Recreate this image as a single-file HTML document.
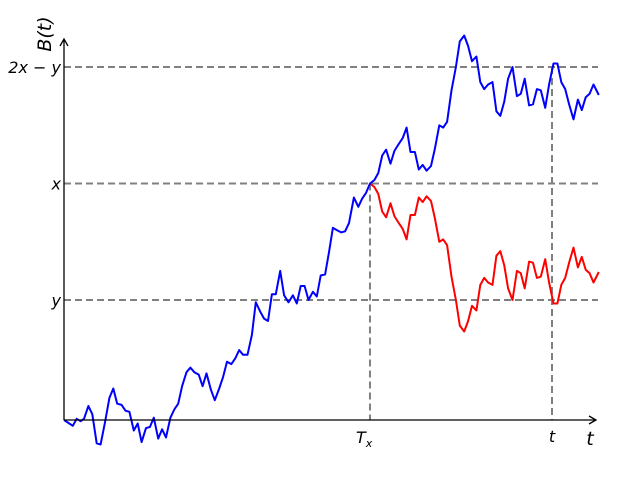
<!DOCTYPE html>
<html><head><meta charset="utf-8"><style>
html,body{margin:0;padding:0;background:#fff;width:640px;height:480px;overflow:hidden}
svg text{font-family:"DejaVu Sans","Liberation Sans",sans-serif;font-style:italic;fill:#000}
</style></head><body>
<svg id="chart" width="640" height="480" viewBox="0 0 640 480" xmlns="http://www.w3.org/2000/svg"></svg>
<script>
const times = [0,.018,.026,.034,.041,.050,.058,.067,.075,.084,.093,.101,.109,.118,.126,.134,.143,.151,.159,.168,.176,.184,.193,.201,.209,.218,.226,.234,.242,.251,.259,.267,.276,.284,.292,.301,.309,.318,.326,.334,.343,.351,.359,.367,.376,.385,.393,.402,.410,.418,.426,.434,.443,.451,.460,.469,.477,.485,.493,.501,.510,.518,.526,.535,.543,.551,.559,.568,.576,.584,.594,.603,.611,.619,.627,.636,.644,.652,.660,.669,.677,.686,.694,.702,.710,.719,.727,.735,.743,.752,.760,.769,.777,.785,.794,.803,.811,.820,.828,.836,.845,.853,.861,.869,.878,.886,.894,.902,.910,.919,.928,.936,.944,.953,.961,.969,.977,.986,.994,1.003,1.011,1.019,1.027,1.035,1.044,1.053,1.061,1.069,1.077,1.085,1.096];
const values = [-.03,-.08,-.02,-.04,-.02,.09,.02,-.23,-.24,-.05,.16,.24,.11,.10,.05,.04,-.12,-.06,-.22,-.10,-.09,-.01,-.19,-.11,-.18,-.01,.06,.11,.26,.38,.42,.38,.36,.26,.37,.23,.14,.24,.34,.47,.45,.50,.57,.53,.53,.70,.98,.90,.84,.82,1.05,1.05,1.25,1.04,.98,1.04,.97,1.12,1.12,1.00,1.07,1.03,1.21,1.22,1.41,1.62,1.60,1.58,1.59,1.66,1.88,1.80,1.87,1.92,2.00,2.03,2.09,2.24,2.29,2.17,2.28,2.34,2.39,2.48,2.27,2.27,2.12,2.16,2.11,2.15,2.30,2.50,2.48,2.53,2.80,3.00,3.22,3.27,3.18,3.05,3.09,2.87,2.81,2.85,2.87,2.62,2.58,2.70,2.90,3.00,2.75,2.77,2.90,2.67,2.68,2.81,2.80,2.65,2.85,3.03,3.03,2.87,2.81,2.68,2.55,2.72,2.63,2.74,2.77,2.85,2.76];
const levelNames = ["y","x","2x − y"];
const levelValues = [1, 2, 3];
const Tx = 0.627;
const tMark = 1.0;
const tickLabels = ["T", "t"];

const svg = document.getElementById('chart');
const NS = 'http://www.w3.org/2000/svg';
const X = t => 64 + t * 488;
const Y = v => 416.5 - v * 116.5;
const axisY = 420;
function mk(tag, attrs){ const e=document.createElementNS(NS,tag); for(const k in attrs) e.setAttribute(k,attrs[k]); svg.appendChild(e); return e; }

levelValues.forEach((v,i)=>{
  const l = mk('line',{x1:64,x2:598,y1:Y(v),y2:Y(v),stroke:'#808080','stroke-width':2,'stroke-dasharray':'7,4'});
  
  
  const tx = mk('text',{x:61,y:Y(v)+6,'text-anchor':'end','font-size':16});
  tx.textContent = levelNames[i];
  
  
});
const xLevel = levelValues[1];
const vTx = mk('line',{x1:X(Tx),x2:X(Tx),y1:Y(xLevel),y2:axisY,stroke:'#808080','stroke-width':2,'stroke-dasharray':'7,4'});


const vT = mk('line',{x1:X(tMark),x2:X(tMark),y1:Y(levelValues[2]),y2:axisY,stroke:'#808080','stroke-width':2,'stroke-dasharray':'7,4'});



let blue='', red='';
times.forEach((t,i)=>{
  blue += (i?'L':'M') + X(t).toFixed(1) + ',' + Y(values[i]).toFixed(1);
  if (t >= Tx - 1e-9) red += (red?'L':'M') + X(t).toFixed(1) + ',' + Y(2*xLevel - values[i]).toFixed(1);
});
const rp = mk('path',{d:red,fill:'none',stroke:'#ff0000','stroke-width':2,'stroke-linejoin':'round'});


const bp = mk('path',{d:blue,fill:'none',stroke:'#0000ff','stroke-width':2,'stroke-linejoin':'round'});



const xa = mk('path',{d:'M64,420H596M589,416L596,420L589,424',fill:'none',stroke:'#000','stroke-width':1.3});


const ya = mk('path',{d:'M64,420V39M60,46L64,39L68,46',fill:'none',stroke:'#000','stroke-width':1.3});



const tl1 = mk('text',{x:X(Tx)-14,y:443,'font-size':16});
tl1.innerHTML = 'T<tspan font-size="11" dy="4">x</tspan>';


const tl2 = mk('text',{x:X(tMark),y:442,'text-anchor':'middle','font-size':16});
tl2.textContent = tickLabels[1];


const xt = mk('text',{x:590,y:445,'text-anchor':'middle','font-size':19});
xt.textContent = 't';


const yt = mk('text',{x:0,y:0,'text-anchor':'middle','font-size':19,transform:'translate(51,34) rotate(-90)'});
yt.textContent = 'B(t)';


</script>
</body></html>
